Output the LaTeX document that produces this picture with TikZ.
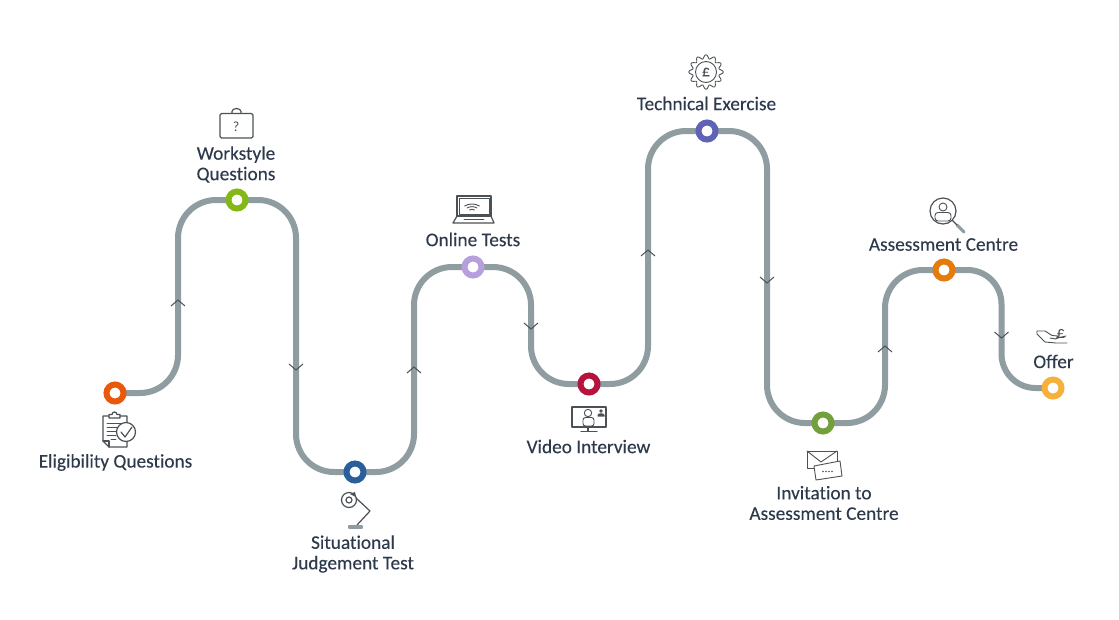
\documentclass[tikz,border=0pt]{standalone}
\usepackage{fontspec}
\setmainfont[Ligatures=NoCommon]{Carlito}
\newfontfamily\labfont[Ligatures=NoCommon,FakeBold=0.12]{Carlito}
\definecolor{track}{HTML}{8F9CA0}
\definecolor{txt}{HTML}{2C3A4B}
\definecolor{ico}{HTML}{4B5257}
\definecolor{c1}{HTML}{E8590C}
\definecolor{c2}{HTML}{84B817}
\definecolor{c3}{HTML}{2A5F9A}
\definecolor{c4}{HTML}{B79FDD}
\definecolor{c5}{HTML}{B5123E}
\definecolor{c6}{HTML}{5F63B5}
\definecolor{c7}{HTML}{74A03C}
\definecolor{c8}{HTML}{E57B0C}
\definecolor{c9}{HTML}{F6B13D}
\tikzset{
  track/.style={draw=track,line width=6pt,rounded corners=38pt},
  stop/.style={circle,draw=#1,line width=6pt,fill=white,minimum size=17pt,inner sep=0pt},
  lab/.style={text=txt,align=center,inner sep=0pt,font=\labfont\fontsize{19.3}{20.5}\selectfont},
  icon/.style={draw=ico,line width=1.2pt,line join=round,line cap=round},
  thin/.style={icon,line width=.9pt},
  chev/.style={draw=ico,line width=1pt},
}
\begin{document}
\begin{tikzpicture}[x=1pt,y=-1pt]
\useasboundingbox (0,0) rectangle (1119,619);
\fill[white] (0,0) rectangle (1119,619);
% via points
\coordinate (v1) at (178,300);
\coordinate (v2) at (296,367);
\coordinate (v3) at (414,367);
\coordinate (v4) at (531,326);
\coordinate (v5) at (648,250);
\coordinate (v6) at (767,280);
\coordinate (v7) at (885,346);
\coordinate (v8) at (1001.5,335);
% stops
\coordinate (a1) at (115,393);
\coordinate (a2) at (237,200);
\coordinate (a3) at (355,472);
\coordinate (a4) at (473,267);
\coordinate (a5) at (589,384);
\coordinate (a6) at (707,131);
\coordinate (a7) at (823,423);
\coordinate (a8) at (944,270);
\coordinate (a9) at (1053,388);
% connectors
\draw[track] (a1) -- (v1 |- a1) -- (v1 |- a2) -- (a2);
\draw[track] (a2) -- (v2 |- a2) -- (v2 |- a3) -- (a3);
\draw[track] (a3) -- (v3 |- a3) -- (v3 |- a4) -- (a4);
\draw[track] (a4) -- (v4 |- a4) -- (v4 |- a5) -- (a5);
\draw[track] (a5) -- (v5 |- a5) -- (v5 |- a6) -- (a6);
\draw[track] (a6) -- (v6 |- a6) -- (v6 |- a7) -- (a7);
\draw[track] (a7) -- (v7 |- a7) -- (v7 |- a8) -- (a8);
\draw[track,rounded corners=34pt] (a8) -- (v8 |- a8) -- (v8 |- a9) -- (a9);
% chevrons
\foreach \v in {v1,v3,v5,v7}{\draw[chev] ([shift={(-7,6)}]\v) -- (\v) -- ([shift={(7,6)}]\v);}
\foreach \v in {v2,v4,v6,v8}{\draw[chev] ([shift={(-7,-3)}]\v) -- ([shift={(0,3)}]\v) -- ([shift={(7,-3)}]\v);}
% stop rings
\node[stop=c1] (n1) at (a1) {};
\node[stop=c2] (n2) at (a2) {};
\node[stop=c3] (n3) at (a3) {};
\node[stop=c4] (n4) at (a4) {};
\node[stop=c5] (n5) at (a5) {};
\node[stop=c6] (n6) at (a6) {};
\node[stop=c7] (n7) at (a7) {};
\node[stop=c8] (n8) at (a8) {};
\node[stop=c9] (n9) at (a9) {};
% labels
\node[lab] (l1) at (115.5,462.5) {Eligibility Questions};
\node[lab] (l2) at (236,164.5) {Workstyle\\Questions};
\node[lab] (l3) at (353,554) {Situational\\Judgement Test};
\node[lab] (l4) at (473,239.5) {Online Tests};
\node[lab] (l5) at (588.5,446.5) {Video Interview};
\node[lab] (l6) at (706.5,103.5) {Technical Exercise};
\node[lab] (l7) at (824,503) {Invitation to\\Assessment Centre};
\node[lab] (l8) at (943.5,244.5) {Assessment Centre};
\node[lab] (l9) at (1053.5,361.5) {Offer};
% clipboard
\draw[icon] (109,416) -- (103,416) -- (103,441) -- (109,447) -- (127,447) -- (127,441) (127,422) -- (127,416) -- (120,416);
\draw[icon] (109,418) -- (109,414.5) -- (112,414.5) arc (180:360:2.5) -- (120,414.5) -- (120,418) -- cycle;
\draw[icon] (103,441) -- (109,441) -- (109,447);
\draw[thin] (107,423) -- (122,423) (107,427) -- (119,427) (107,431) -- (117,431) (107,435) -- (116,435) (111,439) -- (116,439);
\draw[icon,fill=white] (126,432) circle (9.5);
\draw[icon] (121,432) -- (125,437) -- (132,427);
% briefcase
\draw[icon,rounded corners=1.5pt] (220,113.5) rectangle (253,138);
\draw[icon] (232,113) -- (232,111.5) arc (180:360:4.5 and 3) -- (241,113);
\node[text=ico,inner sep=0pt,font=\fontsize{14}{14}\selectfont] (q) at (236,127) {?};
% lamp
\draw[icon] (349,500) circle (7.5);
\draw[icon] (349,500) circle (3);
\fill[ico] (350,494) -- (355,492) -- (356,497) -- cycle;
\draw[icon] (356,498) -- (370,511) -- (357,525);
\draw[icon,draw=track,fill=track!50] (349,526) rectangle (362,528);
% laptop
\draw[icon] (457,196) rectangle (491,216);
\draw[thin] (459,198) rectangle (489,214);
\draw[icon] (457,216) -- (453,223) -- (494,223) -- (491,216);
\draw[thin] (464.5,206) arc (240:300:15) (467,208) arc (240:300:10) (469.5,210) arc (240:300:5);
\draw[thin] (464,219.5) -- (484,219.5);
% video
\draw[icon] (572,407) rectangle (606,427);
\draw[icon] (588,427) -- (588,431) (581,431.5) -- (597,431.5);
\draw[thin] (588,413) circle (3.7);
\draw[thin,rounded corners=2.5pt] (583,417.5) rectangle (594,426);
\fill[ico] (601,411) circle (1.8);
\fill[ico] (597.5,416.5) -- (597.5,415) arc (180:360:3.5 and 1.8) -- (604.5,416.5) -- cycle;
% gear
\draw[thin] plot[domain=0:360,samples=145,smooth] ({706+(15.3+1.9*cos(12*\x))*cos(\x)},{72+(15.3+1.9*cos(12*\x))*sin(\x)}) -- cycle;
\draw[thin] (706,72) circle (10.5);
\node[text=ico,inner sep=0pt,font=\labfont\fontsize{16}{16}\selectfont] (g) at (706,72) {£};
% envelopes
\draw[thin] (807,451) rectangle (837,468);
\draw[thin] (807,451) -- (821,462) -- (837,451);
\draw[thin,fill=white] (814,466) -- (840,461) -- (842,476) -- (816,480) -- cycle;
\foreach \x in {823,826,829,832}{\fill[ico] (\x,471.5) circle (.8);}
% magnifier
\draw[icon] (943,211) circle (13);
\draw[icon,draw=track,line width=3pt] (957,225) -- (964,232);
\draw[icon] (952.5,220.5) -- (957,225);
\draw[thin] (943,207) circle (4);
\draw[thin,rounded corners=3pt] (935,212.5) rectangle (951,221);
% hand
\draw[thin] (1037,331) -- (1045,331) -- (1052,335.5) -- (1058,336) -- (1056,339) -- (1050,338);
\draw[thin] (1037,331) -- (1037,334) -- (1045,342) -- (1056,343) -- (1067,343);
\draw[thin] (1056,338.5) -- (1066,336);
\node[text=ico,inner sep=0pt,font=\fontsize{17}{17}\selectfont] (p) at (1061,333.5) {£};
\end{tikzpicture}
\end{document}
